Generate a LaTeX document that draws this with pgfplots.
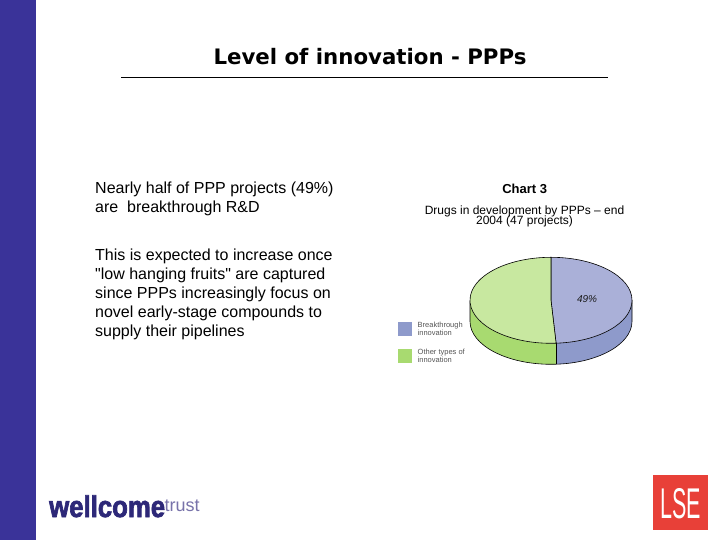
\documentclass[border=0pt]{standalone}
\usepackage{pgfplots}
\pgfplotsset{compat=1.18}
\usepackage{pgfplotstable}
\usepackage{fontspec}
\setmainfont{Liberation Sans}
\newfontfamily\titlefont{DejaVu Sans}
\newfontfamily\heavyfont[FakeBold=2.5]{Liberation Sans Bold}

\definecolor{sidebar}{RGB}{58,51,153}
\definecolor{btop}{RGB}{170,176,216}
\definecolor{bside}{RGB}{142,154,203}
\definecolor{gtop}{RGB}{200,232,160}
\definecolor{gside}{RGB}{168,218,112}
\definecolor{lsered}{RGB}{232,64,56}
\definecolor{wdark}{RGB}{45,40,120}
\definecolor{wlight}{RGB}{120,115,170}
\definecolor{legtext}{RGB}{85,85,85}

% share of the 47 PPP projects, in percent
\pgfplotstableread{
share value
Breakthrough 49
Other 51
}\piedata

\begin{document}
\begin{tikzpicture}[x=1pt,y=-1pt]
\useasboundingbox (0,0) rectangle (720,540);
\fill[white] (0,0) rectangle (720,540);
\fill[sidebar] (0,0) rectangle (36,540);

% slide title
\node[font=\titlefont\bfseries\fontsize{21.3}{25}\selectfont, anchor=base, inner sep=0pt] at (370,65) {Level of innovation - PPPs};
\draw[line width=0.8pt] (121,77) -- (608,77);

% left text
\begin{scope}[every node/.style={anchor=base west, inner sep=0pt, font=\fontsize{16}{19}\selectfont}]
\node at (95,194) {Nearly half of PPP projects (49\%)};
\node at (95,212.5) {are\ \ breakthrough R\&D};
\node at (95,260) {This is expected to increase once};
\node at (95,279.2) {\textquotedbl low hanging fruits\textquotedbl{} are captured};
\node at (95,298.4) {since PPPs increasingly focus on};
\node at (95,317.6) {novel early-stage compounds to};
\node at (95,336.8) {supply their pipelines};
\end{scope}

% chart heading
\node[anchor=base, inner sep=0pt, font=\bfseries\fontsize{13}{15}\selectfont] at (524.7,194) {Chart 3};
\node[anchor=base, inner sep=0pt, font=\fontsize{12}{12}\selectfont] at (524.5,214.3) {Drugs in development by PPPs -- end};
\node[anchor=base, inner sep=0pt, font=\fontsize{12}{12}\selectfont] at (524.5,225) {2004 (47 projects)};

% angles from the data
\pgfplotstablegetelem{0}{value}\of\piedata
\let\pb\pgfplotsretval
\pgfmathsetmacro\ea{90-3.6*\pb}
\pgfmathsetmacro\eb{360+\ea}
\pgfmathsetmacro\ex{81*cos(\ea)}
\pgfmathsetmacro\ey{43*sin(\ea)}
\pgfmathsetmacro\eyd{\ey-21}

% pie: axis (0,0) sits at pixel (551,300.3)
\begin{axis}[at={(461pt,-370.3pt)}, anchor=south west, x=1pt, y=1pt, hide axis,
  xmin=-90, xmax=90, ymin=-70, ymax=50, clip=false]
% sides
\fill[bside] (axis cs:\ex,\ey) arc[start angle=\ea, end angle=0, x radius=81, y radius=43]
  -- (axis cs:81,-21) arc[start angle=0, end angle=\ea, x radius=81, y radius=43] -- cycle;
\fill[gside] (axis cs:-81,0) arc[start angle=180, end angle=\eb, x radius=81, y radius=43]
  -- (axis cs:\ex,\eyd) arc[start angle=\eb, end angle=180, x radius=81, y radius=43] -- cycle;
\draw[line width=0.6pt] (axis cs:-81,0) -- (axis cs:-81,-21)
  arc[start angle=180, end angle=360, x radius=81, y radius=43] -- (axis cs:81,0);
\draw[line width=0.4pt] (axis cs:\ex,\ey) -- (axis cs:\ex,\eyd);
% top
\filldraw[fill=btop, line width=0.6pt] (axis cs:0,0) -- (axis cs:0,43)
  arc[start angle=90, end angle=\ea, x radius=81, y radius=43] -- cycle;
\filldraw[fill=gtop, line width=0.6pt] (axis cs:0,0) -- (axis cs:\ex,\ey)
  arc[start angle=\ea, end angle=-270, x radius=81, y radius=43] -- cycle;
\node[font=\itshape\fontsize{10}{10}\selectfont, text=black!90] at (axis cs:36,1.3) {\pb\%};
\end{axis}

% legend
\fill[bside] (398,322) rectangle (412,336);
\fill[gside] (398,348.5) rectangle (412,362.5);
\begin{scope}[every node/.style={anchor=base west, inner sep=0pt, text=legtext, font=\fontsize{7.5}{8}\selectfont}]
\node at (417.5,327.5) {Breakthrough};
\node at (417.5,335.5) {innovation};
\node at (417.5,354.5) {Other types of};
\node at (417.5,362.5) {innovation};
\end{scope}

% logos
\node[anchor=base west, inner sep=0pt, text=wdark] at (49,517)
  {\scalebox{1.03}[1.2]{\heavyfont\fontsize{25}{25}\selectfont wellcome}};
\node[anchor=base west, inner sep=0pt, text=wlight] at (164.5,511)
  {\fontsize{18}{18}\selectfont trust};
\fill[lsered] (653,475) rectangle (708,530);
\node[anchor=base, inner sep=0pt, text=white] at (680.5,518)
  {\scalebox{0.5}[1]{\fontsize{43}{43}\selectfont LSE}};
\end{tikzpicture}
\end{document}
